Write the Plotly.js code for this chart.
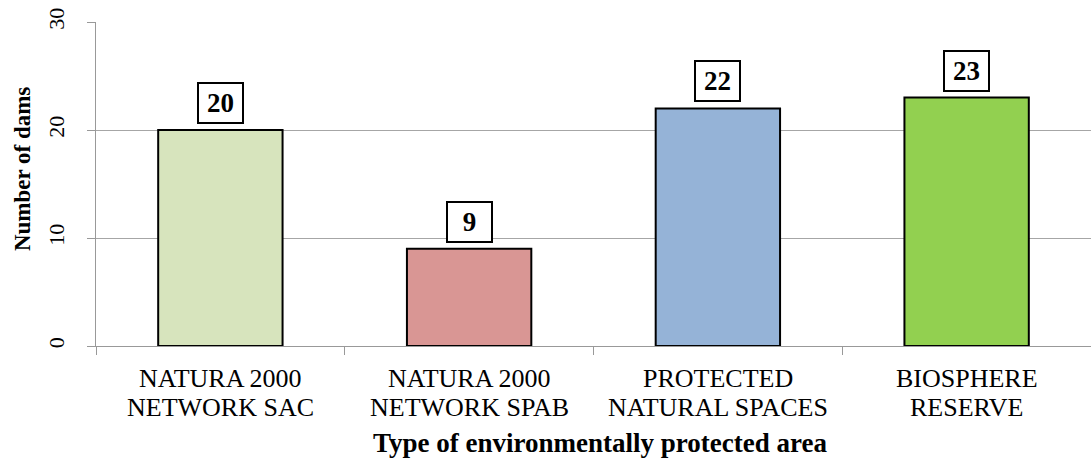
<!DOCTYPE html>
<html><head><meta charset="utf-8">
<script src="https://cdn.plot.ly/plotly-3.0.1.min.js"></script>
<style>html,body{margin:0;padding:0;background:#fff;}#chart{width:1091px;height:459px;}</style>
</head><body><div id="chart"></div>
<script>
const categories = ["NATURA 2000<br>NETWORK SAC", "NATURA 2000<br>NETWORK SPAB", "PROTECTED<br>NATURAL SPACES", "BIOSPHERE<br>RESERVE"];
const values = [20, 9, 22, 23];
const colors = ["#D7E4BD", "#D99694", "#95B3D7", "#92D050"];
const yTicks = [0, 10, 20, 30];
const xTitle = "Type of environmentally protected area";
const yTitle = "Number of dams";

const font = "Liberation Serif";
const trace = {
  type: "bar", x: categories, y: values, width: 0.5,
  marker: {color: colors, line: {color: "#000", width: 2}},
  hoverinfo: "none"
};
const annotations = [];
categories.forEach((c, i) => {
  annotations.push({
    x: c, y: values[i], xref: "x", yref: "y", text: "<b>" + values[i] + "</b>",
    showarrow: false, yanchor: "bottom", yshift: 6, width: 37, height: 32,
    bgcolor: "#fff", bordercolor: "#000", borderwidth: 2, borderpad: 3,
    font: {family: font, size: 27, color: "#000"}
  });
  c.split("<br>").forEach((line, j) => {
    annotations.push({
      x: c, y: 0, xref: "x", yref: "paper", text: line, showarrow: false,
      yanchor: "middle", yshift: -32 - 29 * j,
      font: {family: font, size: 26, color: "#000"}
    });
  });
});
annotations.push({
  x: 0.5, y: 0, xref: "paper", yref: "paper", text: "<b>" + xTitle + "</b>", showarrow: false,
  xshift: 6, yanchor: "middle", yshift: -97,
  font: {family: font, size: 27, color: "#000"}
});
annotations.push({
  x: 0, y: 0.546, xref: "paper", yref: "paper", text: "<b>" + yTitle + "</b>", showarrow: false,
  textangle: -90, xanchor: "center", yanchor: "middle", xshift: -74,
  font: {family: font, size: 23, color: "#000"}
});
const layout = {
  width: 1091, height: 459,
  margin: {l: 96, r: 0, t: 22, b: 113},
  paper_bgcolor: "#fff", plot_bgcolor: "#fff",
  showlegend: false, bargap: 0.5,
  font: {family: font, color: "#000"},
  xaxis: {
    type: "category", tickson: "boundaries", ticks: "outside", ticklen: 8, tickcolor: "#999",
    showline: true, linecolor: "#999", linewidth: 1, showgrid: false, showticklabels: false
  },
  yaxis: {
    range: [0, 30], tickvals: yTicks, ticktext: yTicks.map(String), tickangle: -90,
    ticks: "outside", ticklen: 8, tickcolor: "#999", ticklabelstandoff: 14,
    showline: true, linecolor: "#999", linewidth: 1,
    showgrid: true, gridcolor: "#a6a6a6", gridwidth: 1, zeroline: false,
    tickfont: {family: font, size: 22, color: "#000"}
  },
  annotations: annotations
};
Plotly.newPlot("chart", [trace], layout, {displayModeBar: false, staticPlot: true});
</script></body></html>
